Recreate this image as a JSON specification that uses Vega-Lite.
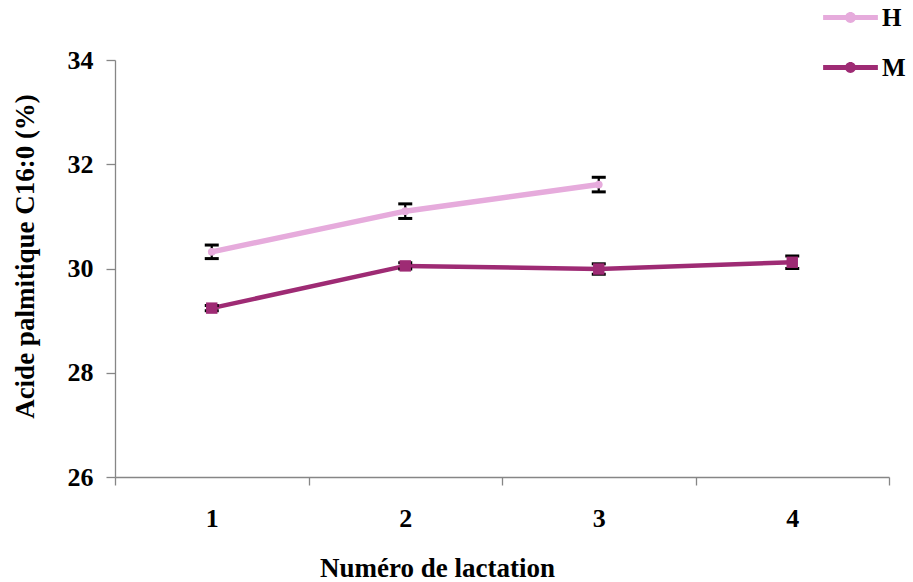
{
  "$schema": "https://vega.github.io/schema/vega-lite/v6.json",
  "autosize": {"type": "none"},
  "width": 774,
  "height": 417,
  "padding": {"left": 115, "top": 60, "right": 24, "bottom": 105},
  "background": "white",
  "config": {
    "view": {"stroke": null},
    "font": "Liberation Serif",
    "axis": {
      "domainColor": "#868686",
      "domainWidth": 1.3,
      "tickColor": "#868686",
      "tickWidth": 1.3,
      "grid": false,
      "labelFont": "Liberation Serif",
      "labelFontSize": 26,
      "labelFontWeight": "bold",
      "labelColor": "black",
      "titleFont": "Liberation Serif",
      "titleFontSize": 27,
      "titleFontWeight": "bold",
      "titleColor": "black"
    }
  },
  "data": {
    "values": [
      {"lactation": 1, "groupe": "H", "c16": 30.32, "err": 0.13},
      {"lactation": 2, "groupe": "H", "c16": 31.1, "err": 0.14},
      {"lactation": 3, "groupe": "H", "c16": 31.61, "err": 0.14},
      {"lactation": 1, "groupe": "M", "c16": 29.24, "err": 0.05},
      {"lactation": 2, "groupe": "M", "c16": 30.05, "err": 0.06},
      {"lactation": 3, "groupe": "M", "c16": 29.99, "err": 0.1},
      {"lactation": 4, "groupe": "M", "c16": 30.12, "err": 0.12}
    ]
  },
  "encoding": {
    "x": {
      "field": "lactation",
      "type": "ordinal",
      "scale": {"type": "band", "domain": [1, 2, 3, 4], "paddingInner": 0, "paddingOuter": 0},
      "axis": {
        "title": "Numéro de lactation",
        "labelAngle": 0,
        "tickBand": "extent",
        "tickSize": 8,
        "labelPadding": 20,
        "titleX": 322,
        "titleY": 91,
        "titleAlign": "center",
        "titleBaseline": "middle"
      }
    },
    "y": {
      "field": "c16",
      "type": "quantitative",
      "scale": {"domain": [26, 34], "nice": false, "zero": false},
      "axis": {
        "title": "Acide palmitique C16:0  (%)",
        "values": [26, 28, 30, 32, 34],
        "tickSize": 9,
        "labelPadding": 13,
        "titleX": -90,
        "titleY": 196,
        "titleAlign": "center",
        "titleBaseline": "middle",
        "titleAngle": -90
      }
    }
  },
  "layer": [
    {
      "mark": {"type": "line"},
      "encoding": {
        "color": {
          "field": "groupe",
          "type": "nominal",
          "scale": {"domain": ["H", "M"], "range": ["#E6ABDC", "#9E2B74"]}
        },
        "strokeWidth": {
          "condition": {"test": "datum.groupe === 'H'", "value": 5.5},
          "value": 4.5
        }
      }
    },
    {
      "mark": {
        "type": "errorbar",
        "color": "black",
        "opacity": 1,
        "rule": {"strokeWidth": 2.2, "color": "black", "opacity": 1},
        "ticks": {"size": 14, "thickness": 3, "color": "black", "opacity": 1}
      },
      "encoding": {
        "yError": {"field": "err"}
      }
    },
    {
      "mark": {"type": "point", "filled": true, "opacity": 1},
      "encoding": {
        "color": {
          "field": "groupe",
          "type": "nominal",
          "scale": {"domain": ["H", "M"], "range": ["#E6ABDC", "#9E2B74"]},
          "legend": {
            "title": null,
            "orient": "none",
            "legendX": 708,
            "legendY": -70,
            "symbolType": "M-1,-0.09L1,-0.09L1,0.09L-1,0.09Z M-0.2,0A0.2,0.2 0 1 1 0.2,0A0.2,0.2 0 1 1 -0.2,0Z",
            "symbolSize": 3000,
            "symbolStrokeWidth": 0,
            "symbolOpacity": 1,
            "labelFont": "Liberation Serif",
            "labelFontSize": 25,
            "labelFontWeight": "bold",
            "labelColor": "black",
            "labelOffset": 4,
            "rowPadding": 9
          }
        },
        "shape": {
          "condition": {"test": "datum.groupe === 'M'", "value": "square"},
          "value": "circle"
        },
        "size": {
          "condition": {"test": "datum.groupe === 'M'", "value": 130},
          "value": 60
        }
      }
    }
  ]
}
